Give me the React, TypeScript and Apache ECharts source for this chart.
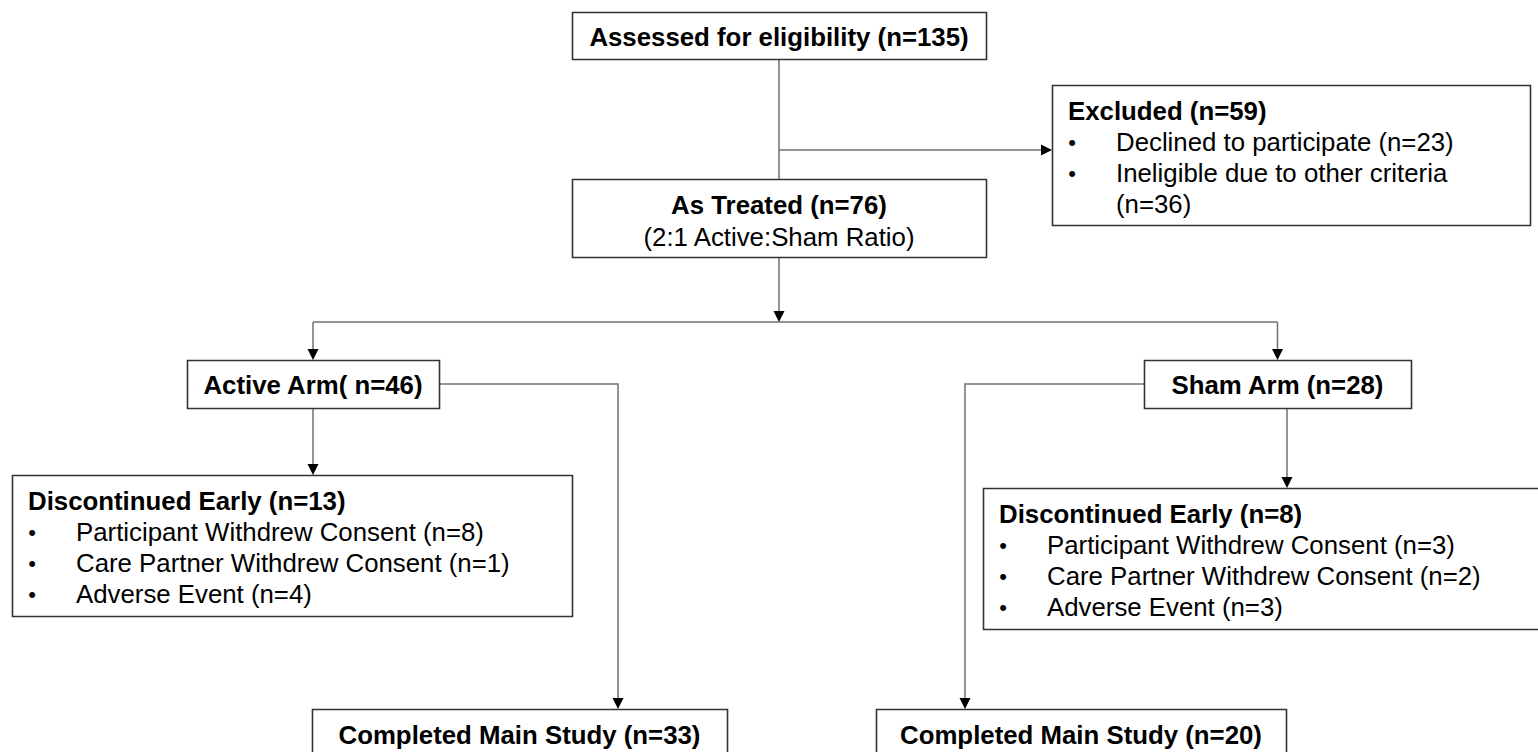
import React, { useEffect, useRef } from 'react';
import * as echarts from 'echarts';

// ---- Content ----
const assessedLabel = 'Assessed for eligibility (n=135)';
const excludedTitle = 'Excluded (n=59)';
const excludedLines = ['Declined to participate (n=23)', 'Ineligible due to other criteria', '(n=36)'];
const excludedBullets = [true, true, false];
const treatedTitle = 'As Treated (n=76)';
const treatedSub = '(2:1 Active:Sham Ratio)';
const activeLabel = 'Active Arm( n=46)';
const shamLabel = 'Sham Arm (n=28)';
const activeDiscTitle = 'Discontinued Early (n=13)';
const activeDiscLines = ['Participant Withdrew Consent (n=8)', 'Care Partner Withdrew Consent (n=1)', 'Adverse Event (n=4)'];
const shamDiscTitle = 'Discontinued Early (n=8)';
const shamDiscLines = ['Participant Withdrew Consent (n=3)', 'Care Partner Withdrew Consent (n=2)', 'Adverse Event (n=3)'];
const activeCompleted = 'Completed Main Study (n=33)';
const shamCompleted = 'Completed Main Study (n=20)';

// ---- Layout (positions / sizes) ----
const L = {
  assessed: { x: 572, y: 12, w: 414, h: 47 },
  excluded: { x: 1052, y: 85, w: 478, h: 140 },
  treated: { x: 572, y: 179, w: 414, h: 78 },
  active: { x: 187, y: 360, w: 252, h: 48 },
  sham: { x: 1144, y: 360, w: 267, h: 48 },
  discA: { x: 12, y: 475, w: 560, h: 141 },
  discS: { x: 983, y: 488, w: 570, h: 141 },
  compA: { x: 312, y: 709, w: 415, h: 70 },
  compS: { x: 876, y: 709, w: 410, h: 70 },
};

const FONT = '"Liberation Sans", Arial, Helvetica, sans-serif';
const FS = 25.8;
const BOX_STROKE = '#333333';
const LINE_STROKE = '#707070';

function rect(b: any) {
  return {
    type: 'rect',
    shape: { x: b.x + 0.5, y: b.y + 0.5, width: b.w, height: b.h },
    style: { fill: '#ffffff', stroke: BOX_STROKE, lineWidth: 1.6 },
    z: 2,
  };
}

function text(str: string, x: number, y: number, bold: boolean, align = 'center', size = FS) {
  return {
    type: 'text',
    x,
    y,
    z: 3,
    style: {
      text: str,
      fill: '#000000',
      fontSize: size,
      fontWeight: bold ? 'bold' : 'normal',
      fontFamily: FONT,
      align,
      verticalAlign: 'middle',
    },
  };
}

function listBox(b: any, title: string, lines: string[], bullets: boolean[]) {
  const els: any[] = [rect(b), text(title, b.x + 16, b.y + 26, true, 'left')];
  lines.forEach((ln, i) => {
    const y = b.y + 57 + 31 * i;
    if (bullets[i]) els.push(text('•', b.x + 20, y, false, 'center', 22));
    els.push(text(ln, b.x + 64, y, false, 'left'));
  });
  return els;
}

function line(points: number[][]) {
  return {
    type: 'polyline',
    shape: { points },
    style: { stroke: LINE_STROKE, lineWidth: 1.5, fill: null },
    z: 1,
  };
}

function arrowDown(x: number, y: number) {
  return {
    type: 'polygon',
    shape: { points: [[x - 5.5, y - 11], [x + 5.5, y - 11], [x, y]] },
    style: { fill: '#000000' },
    z: 4,
  };
}

function arrowRight(x: number, y: number) {
  return {
    type: 'polygon',
    shape: { points: [[x - 11, y - 5.5], [x - 11, y + 5.5], [x, y]] },
    style: { fill: '#000000' },
    z: 4,
  };
}

export default function App() {
  const ref = useRef<HTMLDivElement>(null);

  useEffect(() => {
    document.body.style.margin = '0';
    document.body.style.overflow = 'hidden';
    if (!ref.current) return;
    const chart = echarts.init(ref.current, undefined, { renderer: 'svg' });

    const cx = L.assessed.x + L.assessed.w / 2;
    const activeCx = L.active.x + L.active.w / 2;
    const shamCx = L.sham.x + L.sham.w / 2;
    const branchY = 322;
    const excY = 150;
    const armMidY = L.active.y + L.active.h / 2;
    const activeSideX = 618;
    const shamSideX = 965;
    const shamDownX = 1287;

    const elements: any[] = [
      // connectors
      line([[cx, L.assessed.y + L.assessed.h], [cx, L.treated.y]]),
      line([[cx, excY], [L.excluded.x - 2, excY]]),
      line([[cx, L.treated.y + L.treated.h], [cx, branchY - 2]]),
      line([[activeCx, branchY], [shamCx, branchY]]),
      line([[activeCx, branchY], [activeCx, L.active.y - 2]]),
      line([[shamCx, branchY], [shamCx, L.sham.y - 2]]),
      line([[activeCx, L.active.y + L.active.h], [activeCx, L.discA.y - 2]]),
      line([[L.active.x + L.active.w, armMidY], [activeSideX, armMidY], [activeSideX, L.compA.y - 2]]),
      line([[shamDownX, L.sham.y + L.sham.h], [shamDownX, L.discS.y - 2]]),
      line([[L.sham.x, armMidY], [shamSideX, armMidY], [shamSideX, L.compS.y - 2]]),
      // arrows
      arrowRight(L.excluded.x, excY),
      arrowDown(cx, branchY),
      arrowDown(activeCx, L.active.y),
      arrowDown(shamCx, L.sham.y),
      arrowDown(activeCx, L.discA.y),
      arrowDown(activeSideX, L.compA.y),
      arrowDown(shamDownX, L.discS.y),
      arrowDown(shamSideX, L.compS.y),
      // boxes
      rect(L.assessed),
      text(assessedLabel, cx, L.assessed.y + 25, true),
      ...listBox(L.excluded, excludedTitle, excludedLines, excludedBullets),
      rect(L.treated),
      text(treatedTitle, cx, L.treated.y + 26, true),
      text(treatedSub, cx, L.treated.y + 58, false),
      rect(L.active),
      text(activeLabel, activeCx, L.active.y + 25, true),
      rect(L.sham),
      text(shamLabel, shamCx, L.sham.y + 25, true),
      ...listBox(L.discA, activeDiscTitle, activeDiscLines, [true, true, true]),
      ...listBox(L.discS, shamDiscTitle, shamDiscLines, [true, true, true]),
      rect(L.compA),
      text(activeCompleted, L.compA.x + L.compA.w / 2, L.compA.y + 26, true),
      rect(L.compS),
      text(shamCompleted, L.compS.x + L.compS.w / 2, L.compS.y + 26, true),
    ];

    chart.setOption({
      animation: false,
      backgroundColor: '#ffffff',
      graphic: { elements },
    });

    return () => chart.dispose();
  }, []);

  return <div ref={ref} style={{ width: 1538, height: 752 }} />;
}
